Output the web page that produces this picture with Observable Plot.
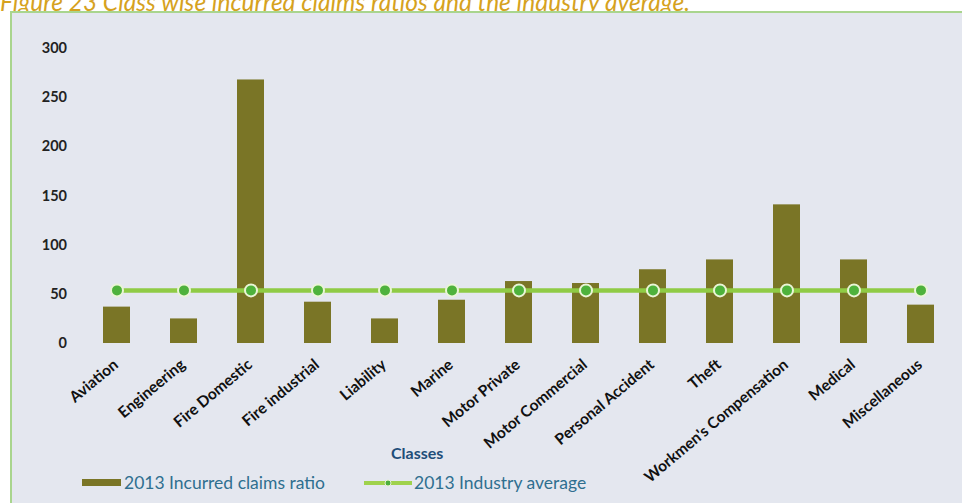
<!DOCTYPE html>
<html>
<head>
<meta charset="utf-8">
<script src="https://cdn.jsdelivr.net/npm/d3@7"></script>
<script src="https://cdn.jsdelivr.net/npm/@observablehq/plot@0.6"></script>
<style>
  html, body { margin: 0; padding: 0; background: #ffffff; }
  #wrap { position: relative; width: 962px; height: 503px; overflow: hidden; background: #ffffff; font-family: Lato, "Open Sans", sans-serif; }
  #title { position: absolute; left: 0px; top: -13px; font-family: Lato, "Open Sans", sans-serif; font-style: italic; font-size: 24.5px; color: #d6a21e; white-space: nowrap; }
  #frame { position: absolute; left: 10px; top: 11px; width: 970px; height: 510px; background: #e4e7ef; border: 2px solid #a9d58e; box-sizing: border-box; }
  #chart { position: absolute; left: 10px; top: 12px; }
  #chart svg g[aria-label="x-axis tick label"] text { font-size: 15.5px; font-weight: bold; fill: #111; }
  #chart svg g[aria-label="y-axis tick label"] text { font-size: 14.5px; font-weight: bold; fill: #222; }
  #xlabel { position: absolute; left: 391px; top: 443px; font-weight: bold; font-size: 16px; color: #1f4e79; }
  .leg { position: absolute; top: 472px; font-size: 17.5px; color: #2f6f8f; white-space: nowrap; }
  .sw { position: absolute; }
</style>
</head>
<body>
<div id="wrap">
  <div id="title">Figure 23 Class wise incurred claims ratios and the industry average.</div>
  <div id="frame"></div>
  <div id="chart"></div>
  <div id="xlabel">Classes</div>
  <div class="sw" style="left:82px; top:479px; width:39px; height:7px; background:#7a7526;"></div>
  <div class="leg" style="left:124px;">2013 Incurred claims ratio</div>
  <svg class="sw" style="left:364px; top:475px;" width="48" height="16">
    <line x1="0" y1="8" x2="48" y2="8" stroke="#9fd24c" stroke-width="4"></line>
    <circle cx="24" cy="8" r="3" fill="#4caf3c" stroke="#e6f3cf" stroke-width="1"></circle>
  </svg>
  <div class="leg" style="left:414px;">2013 Industry average</div>
</div>
<script>
const classes = ["Aviation", "Engineering", "Fire Domestic", "Fire industrial", "Liability", "Marine", "Motor Private", "Motor Commercial", "Personal Accident", "Theft", "Workmen's Compensation", "Medical", "Miscellaneous"];
const claimsRatio2013 = [37, 25, 268, 42, 25, 44, 63, 61, 75, 85, 141, 85, 39];
const industryAverage2013 = [54, 54, 54, 54, 54, 54, 54, 54, 54, 54, 54, 54, 54];
const yTicks = [0, 50, 100, 150, 200, 250, 300];

const rows = classes.map((c, i) => ({cls: c, ratio: claimsRatio2013[i], avg: industryAverage2013[i]}));

const chart = Plot.plot({
  width: 947,
  height: 491,
  marginLeft: 72.5,
  marginRight: 3.5,
  marginTop: 36,
  marginBottom: 160,
  style: {background: "transparent", fontFamily: "Lato, 'Open Sans', sans-serif", overflow: "visible"},
  x: {domain: classes, paddingInner: 0.6, paddingOuter: 0.3, label: null},
  y: {domain: [0, 300], label: null},
  marks: [
    Plot.barY(rows, {x: "cls", y: "ratio", fill: "#7a7526"}),
    Plot.line(rows, {x: "cls", y: "avg", stroke: "#8fcb45", strokeWidth: 4.5}),
    Plot.dot(rows, {x: "cls", y: "avg", r: 6, fill: "#4eb23c", stroke: "#eaf5d6", strokeWidth: 2}),
    Plot.axisY({ticks: yTicks, tickSize: 0, tickPadding: 16, label: null}),
    Plot.axisX({tickSize: 0, tickPadding: 19, tickRotate: -40, dx: -1, label: null})
  ]
});
document.getElementById("chart").appendChild(chart);
</script>
</body>
</html>
